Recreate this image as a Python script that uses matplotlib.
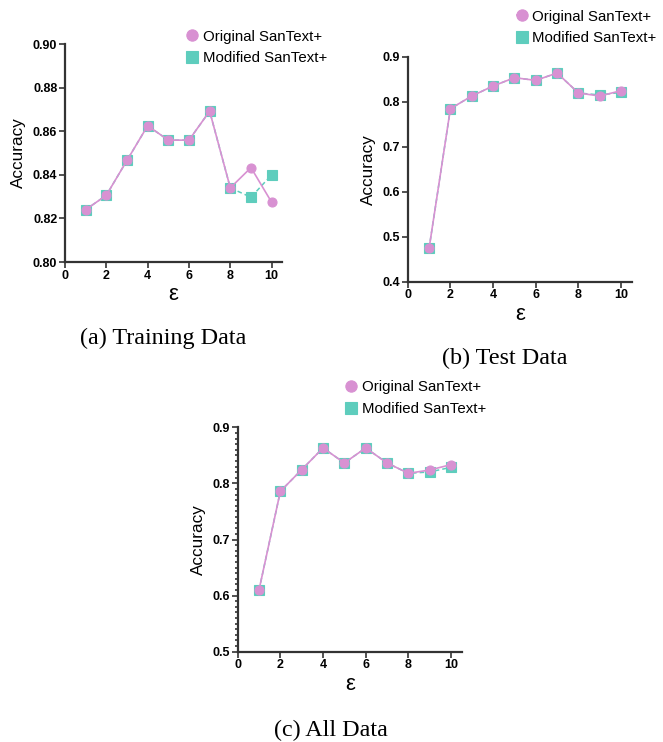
import numpy as np
import matplotlib.pyplot as plt
from matplotlib.ticker import MultipleLocator

plt.rcParams['font.family'] = ['Liberation Sans', 'DejaVu Sans']

eps = [1, 2, 3, 4, 5, 6, 7, 8, 9, 10]

# (a) training data
train_orig = [0.824, 0.8306, 0.8466, 0.8625, 0.8559, 0.8559, 0.8692, 0.834, 0.8433, 0.8274]
train_mod = [0.824, 0.8306, 0.8466, 0.8625, 0.8559, 0.8559, 0.8692, 0.834, 0.8297, 0.840]
# (b) test data
test_orig = [0.474, 0.7844, 0.8126, 0.8348, 0.8533, 0.8474, 0.8637, 0.8193, 0.8126, 0.8244]
test_mod = [0.474, 0.7844, 0.8126, 0.8348, 0.8533, 0.8474, 0.8637, 0.8193, 0.815, 0.8207]
# (c) all data
all_orig = [0.610, 0.7859, 0.8245, 0.8632, 0.8365, 0.8632, 0.8365, 0.818, 0.8239, 0.8335]
all_mod = [0.610, 0.7859, 0.8245, 0.8632, 0.8365, 0.8632, 0.8365, 0.818, 0.8204, 0.8287]

pink = '#D891D2'
teal = '#5ECDBD'
axcol = '#333333'

fig = plt.figure(figsize=(6.63, 7.42), dpi=100)

def panel(rect, orig, mod, ylim, ystep, yfmt, leg_xy, caption, cap_xy, minor=None):
    ax = fig.add_axes(rect)
    ax.plot(eps, mod, color=teal, ls='--', lw=1.1, marker='s', ms=7.1, mew=0.8,
            mec=teal, label='Modified SanText+', dashes=(3, 2))
    ax.plot(eps, orig, color=pink, lw=1.2, marker='o', ms=6.5, mew=0.8,
            mec=pink, label='Original SanText+')
    ax.set_xlim(0, 10.5)
    ax.set_ylim(*ylim)
    ax.set_xticks([0, 2, 4, 6, 8, 10])
    ax.yaxis.set_major_locator(MultipleLocator(ystep))
    ax.yaxis.set_major_formatter(plt.FormatStrFormatter(yfmt))
    if minor:
        ax.yaxis.set_minor_locator(MultipleLocator(minor))
        ax.tick_params(axis='y', which='minor', length=2.5, width=1.2, color=axcol)
    for s in ['top', 'right']:
        ax.spines[s].set_visible(False)
    for s in ['left', 'bottom']:
        ax.spines[s].set_color(axcol)
        ax.spines[s].set_linewidth(1.6)
    ax.tick_params(which='major', length=4, width=1.2, color=axcol, labelsize=9, pad=1.5)
    for lab in ax.get_xticklabels() + ax.get_yticklabels():
        lab.set_fontweight('bold')
    ax.set_ylabel('Accuracy', fontsize=12.3, labelpad=5)
    ax.set_xlabel('ε', fontsize=16, labelpad=2)
    h, l = ax.get_legend_handles_labels()
    ax.legend(h[::-1], l[::-1], loc='upper left', bbox_to_anchor=leg_xy,
              bbox_transform=fig.transFigure, frameon=False, fontsize=10.8,
              handlelength=0.6, handletextpad=0.4, labelspacing=0.5,
              markerscale=1.25, borderaxespad=0, borderpad=0)
    fig.text(cap_xy[0], cap_xy[1], caption, ha='center', va='center',
             fontsize=17.4, family='Liberation Serif')
    return ax

panel([0.098, 0.6469, 0.3273, 0.2938], train_orig, train_mod, (0.80, 0.90), 0.02, '%.2f',
      (0.283, 0.960), '(a) Training Data', (0.246, 0.544))
panel([0.615, 0.6204, 0.3379, 0.3032], test_orig, test_mod, (0.4, 0.9), 0.1, '%.1f',
      (0.780, 0.987), '(b) Test Data', (0.762, 0.517))
panel([0.3585, 0.1217, 0.3379, 0.3024], all_orig, all_mod, (0.5, 0.9), 0.1, '%.1f',
      (0.523, 0.4875), '(c) All Data', (0.499, 0.015), minor=0.01)

fig.savefig('out.png', dpi=100)
